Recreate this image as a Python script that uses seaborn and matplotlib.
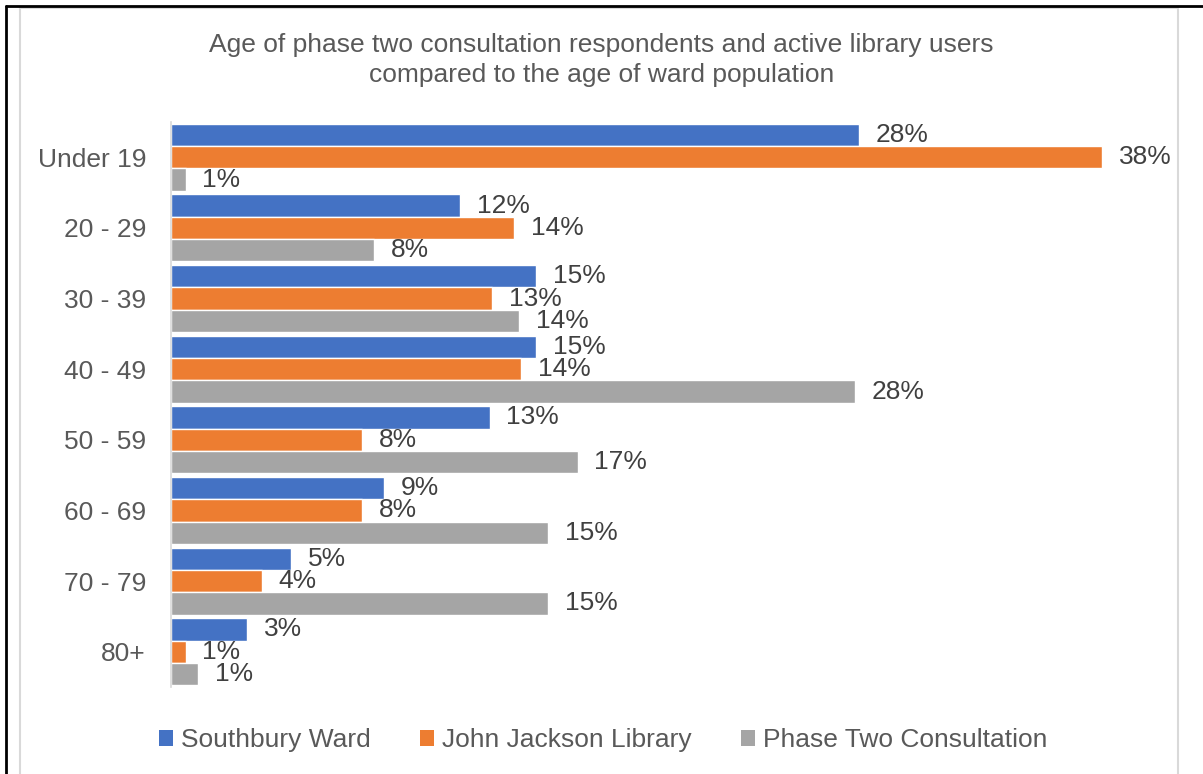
import matplotlib
matplotlib.use("Agg")
import matplotlib.pyplot as plt
import seaborn as sns
import pandas as pd
from matplotlib.patches import Patch
from matplotlib.lines import Line2D

categories = ["Under 19", "20 - 29", "30 - 39", "40 - 49", "50 - 59", "60 - 69", "70 - 79", "80+"]
series_names = ["Southbury Ward", "John Jackson Library", "Phase Two Consultation"]
southbury = [28.1, 11.8, 14.9, 14.9, 13.0, 8.7, 4.9, 3.1]
john_jackson = [38.0, 14.0, 13.1, 14.3, 7.8, 7.8, 3.7, 0.6]
phase_two = [0.6, 8.3, 14.2, 27.9, 16.6, 15.4, 15.4, 1.1]
colors = ["#4472C4", "#ED7D31", "#A5A5A5"]
title = "Age of phase two consultation respondents and active library users\ncompared to the age of ward population"

rows = []
for name, vals in zip(series_names, [southbury, john_jackson, phase_two]):
    for c, v in zip(categories, vals):
        rows.append({"Age": c, "Series": name, "Value": v})
df = pd.DataFrame(rows)

sns.set_theme(style="white")
plt.rcParams["font.family"] = ["Liberation Sans", "DejaVu Sans"]

fig = plt.figure(figsize=(12.03, 7.74), dpi=100)
ax = fig.add_axes([171 / 1203, 1 - 687 / 774, 980 / 1203, 565 / 774])

sns.barplot(data=df, y="Age", x="Value", hue="Series", hue_order=series_names,
            order=categories, palette=colors, orient="h", width=0.95, gap=0,
            ax=ax, legend=False, saturation=1)

for cont, vals in zip(ax.containers, [southbury, john_jackson, phase_two]):
    ax.bar_label(cont, labels=[f"{v:.0f}%" for v in vals], padding=12,
                 fontsize=19, color="#404040")

ax.set_xlim(0, 40)
ax.set_ylim(7.5, -0.5)
ax.set_xlabel("")
ax.set_ylabel("")
ax.set_xticks([])
for s in ["top", "right", "bottom"]:
    ax.spines[s].set_visible(False)
ax.spines["left"].set_color("#D9D9D9")
ax.spines["left"].set_linewidth(1.2)
ax.tick_params(axis="y", length=0, pad=18, labelsize=19, labelcolor="#595959")

fig.text(0.5, 1 - 60 / 774, title, ha="center", va="center", fontsize=19,
         color="#595959", linespacing=1.3)

handles = [Patch(facecolor=c, edgecolor="none") for c in colors]
fig.legend(handles, series_names, loc="center", bbox_to_anchor=(603 / 1203, 1 - 740 / 774),
           ncol=3, frameon=False, fontsize=19, labelcolor="#595959",
           handlelength=0.55, handleheight=0.55, handletextpad=0.3, columnspacing=1.85)

# chart border (light gray) and outer cell border (black)
fig.add_artist(Line2D([20 / 1203, 20 / 1203], [0, 1 - 8 / 774], color="#D9D9D9", lw=1.5, transform=fig.transFigure))
fig.add_artist(Line2D([1178 / 1203, 1178 / 1203], [0, 1 - 8 / 774], color="#D9D9D9", lw=1.5, transform=fig.transFigure))
fig.add_artist(Line2D([20 / 1203, 1178 / 1203], [1 - 8 / 774, 1 - 8 / 774], color="#D9D9D9", lw=1.5, transform=fig.transFigure))
fig.add_artist(Line2D([6 / 1203, 6 / 1203], [0, 1 - 6 / 774], color="black", lw=2, transform=fig.transFigure))
fig.add_artist(Line2D([6 / 1203, 1], [1 - 6 / 774, 1 - 6 / 774], color="black", lw=2, transform=fig.transFigure))

fig.savefig("out.png", dpi=100)
